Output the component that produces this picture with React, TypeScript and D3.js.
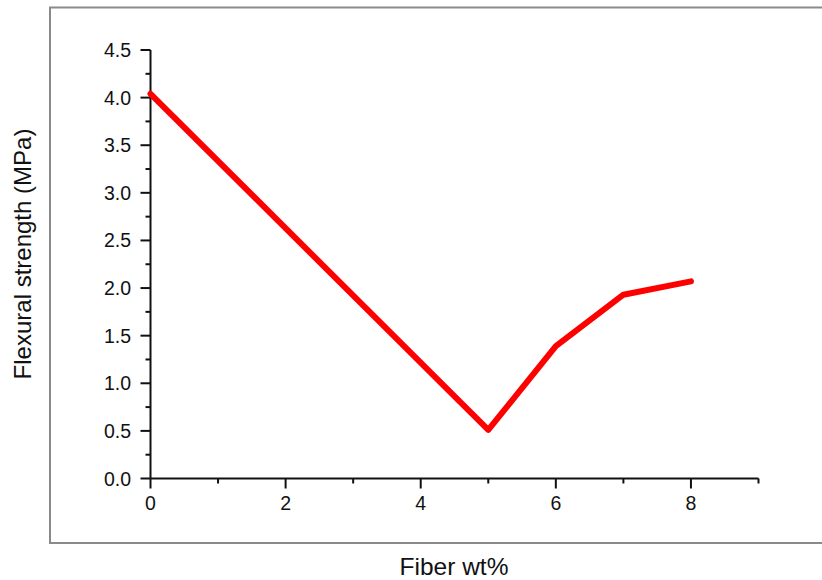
import React from "react";
import * as d3 from "d3";

const fiberWt = [0, 5, 6, 7, 8];
const strength = [4.04, 0.51, 1.39, 1.93, 2.07];
const xTickLabels = ["0", "2", "4", "6", "8"];
const yTickLabels = ["0.0", "0.5", "1.0", "1.5", "2.0", "2.5", "3.0", "3.5", "4.0", "4.5"];

const W = 822;
const H = 580;

export default function App() {
  const x = d3.scaleLinear().domain([0, 9]).range([150.5, 758.5]);
  const y = d3.scaleLinear().domain([0, 4.5]).range([478.5, 50]);
  const pts = fiberWt.map((v, i) => [v, strength[i]] as [number, number]);
  const line = d3
    .line<[number, number]>()
    .x((d) => x(d[0]))
    .y((d) => y(d[1]));

  const xMinor = d3.range(1, 10, 2);
  const yMinor = d3.range(0.25, 4.5, 0.5);
  const font = "'Liberation Sans', Arial, sans-serif";

  return (
    <svg
      width={W}
      height={H}
      style={{ position: "absolute", left: 0, top: 0, background: "#fff" }}
    >
      <rect x={0} y={0} width={W} height={H} fill="#fff" />
      {/* outer frame */}
      <rect x={50} y={7.5} width={W + 20} height={535.5} fill="none" stroke="#8a8a8a" strokeWidth={2} />

      {/* axes */}
      <line x1={x(0)} x2={x(9)} y1={y(0)} y2={y(0)} stroke="#111" strokeWidth={2} />
      <line x1={x(0)} x2={x(0)} y1={y(0)} y2={y(4.5)} stroke="#111" strokeWidth={2} />

      {/* x ticks */}
      {xTickLabels.map((t) => (
        <g key={"xt" + t}>
          <line x1={x(+t)} x2={x(+t)} y1={y(0)} y2={y(0) + 10} stroke="#111" strokeWidth={2} />
          <text x={x(+t)} y={510} textAnchor="middle" fontFamily={font} fontSize={19.5} fill="#111">
            {t}
          </text>
        </g>
      ))}
      {xMinor.map((v) => (
        <line key={"xm" + v} x1={x(v)} x2={x(v)} y1={y(0)} y2={y(0) + 5} stroke="#111" strokeWidth={2} />
      ))}

      {/* y ticks */}
      {yTickLabels.map((t) => (
        <g key={"yt" + t}>
          <line x1={x(0) - 10} x2={x(0)} y1={y(+t)} y2={y(+t)} stroke="#111" strokeWidth={2} />
          <text
            x={131}
            y={y(+t)}
            dy="0.36em"
            textAnchor="end"
            fontFamily={font}
            fontSize={19.5}
            fill="#111"
          >
            {t}
          </text>
        </g>
      ))}
      {yMinor.map((v) => (
        <line key={"ym" + v} x1={x(0) - 5} x2={x(0)} y1={y(v)} y2={y(v)} stroke="#111" strokeWidth={2} />
      ))}

      {/* data line */}
      <path
        d={line(pts) || ""}
        fill="none"
        stroke="#ff0000"
        strokeWidth={6}
        strokeLinejoin="round"
        strokeLinecap="round"
      />

      {/* titles */}
      <text
        transform={`translate(22,254) rotate(-90)`}
        textAnchor="middle"
        dominantBaseline="central"
        fontFamily={font}
        fontSize={24}
        fill="#111"
      >
        Flexural strength (MPa)
      </text>
      <text x={454} y={575} textAnchor="middle" fontFamily={font} fontSize={24.5} fill="#111">
        Fiber wt%
      </text>
    </svg>
  );
}
